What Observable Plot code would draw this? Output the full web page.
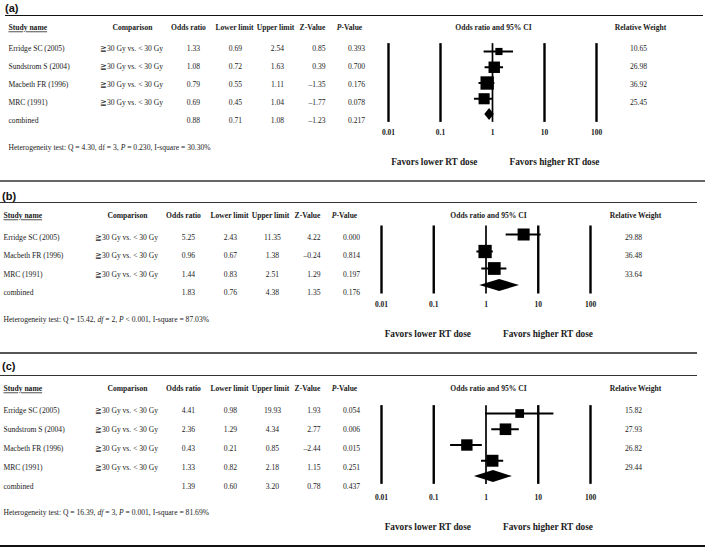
<!DOCTYPE html>
<html><head><meta charset="utf-8">
<script src="https://cdn.jsdelivr.net/npm/d3@7"></script>
<script src="https://cdn.jsdelivr.net/npm/@observablehq/plot@0.6"></script>
<style>
body{margin:0;background:#fff;}
#root{position:relative;width:705px;height:548px;overflow:hidden;background:#fff;}
.abs{position:absolute;}
.plabel{position:absolute;font-family:"Liberation Sans",Arial,sans-serif;font-weight:bold;font-size:11px;line-height:11px;color:#111;}
.rule{position:absolute;height:0;}
</style></head><body><div id="root"></div>
<script>
// ---------- data ----------
const comparison = "≧30 Gy vs. < 30 Gy";
const tickValues = [0.01, 0.1, 1, 10, 100];
const tickLabels = ["0.01", "0.1", "1", "10", "100"];
const headers = ["Study name", "Comparison", "Odds ratio", "Lower limit", "Upper limit", "Z-Value", "P-Value", "Odds ratio and 95% CI", "Relative Weight"];
const favorsLabels = ["Favors lower RT dose", "Favors higher RT dose"];

// Panel (a)
const studiesA = ["Erridge SC (2005)", "Sundstrom S (2004)", "Macbeth FR (1996)", "MRC (1991)"];
const oddsA = [1.33, 1.08, 0.79, 0.69];
const lowerA = [0.69, 0.72, 0.55, 0.45];
const upperA = [2.54, 1.63, 1.11, 1.04];
const zA = [0.85, 0.39, -1.35, -1.77];
const pA = [0.393, 0.700, 0.176, 0.078];
const weightA = [10.65, 26.98, 36.92, 25.45];
const combinedA = {or: 0.88, lower: 0.71, upper: 1.08, z: -1.23, p: 0.217};
const hetA = "Heterogeneity test: Q = 4.30, df = 3, P = 0.230, I-square = 30.30%";

// Panel (b)
const studiesB = ["Erridge SC (2005)", "Macbeth FR (1996)", "MRC (1991)"];
const oddsB = [5.25, 0.96, 1.44];
const lowerB = [2.43, 0.67, 0.83];
const upperB = [11.35, 1.38, 2.51];
const zB = [4.22, -0.24, 1.29];
const pB = [0.000, 0.814, 0.197];
const weightB = [29.88, 36.48, 33.64];
const combinedB = {or: 1.83, lower: 0.76, upper: 4.38, z: 1.35, p: 0.176};
const hetB = "Heterogeneity test: Q = 15.42, df = 2, P < 0.001, I-square = 87.03%";

// Panel (c)
const studiesC = ["Erridge SC (2005)", "Sundstrom S (2004)", "Macbeth FR (1996)", "MRC (1991)"];
const oddsC = [4.41, 2.36, 0.43, 1.33];
const lowerC = [0.98, 1.29, 0.21, 0.82];
const upperC = [19.93, 4.34, 0.85, 2.18];
const zC = [1.93, 2.77, -2.44, 1.15];
const pC = [0.054, 0.006, 0.015, 0.251];
const weightC = [15.82, 27.93, 26.82, 29.44];
const combinedC = {or: 1.39, lower: 0.60, upper: 3.20, z: 0.78, p: 0.437};
const hetC = "Heterogeneity test: Q = 16.39, df = 3, P = 0.001, I-square = 81.69%";

// ---------- layout ----------
const SERIF = "'Liberation Serif','Times New Roman',serif";
const FS = 7.6;
const INK = "#1a1a1a";
const f2 = v => v.toFixed(2);
const fz = v => v.toFixed(2).replace("-", "–");
const f3 = v => v.toFixed(3);

const columns = [
  {key: "name", h: 0, hx: 3, vx: 3, ha: "start", va: "start"},
  {key: "comp", h: 1, hx: 127, vx: 126},
  {key: "or", h: 2, hx: 183, vx: 188, fmt: f2},
  {key: "lower", h: 3, hx: 229, vx: 230, fmt: f2},
  {key: "upper", h: 4, hx: 270, vx: 272, fmt: f2},
  {key: "z", h: 5, hx: 307, vx: 320, va: "end", fmt: fz},
  {key: "p", h: 6, hx: 344, vx: 351, fmt: f3},
  {key: null, h: 7, hx: 488},
  {key: "w", h: 8, hx: 635, vx: 633, fmt: f2}
];

const panels = [
  {label: "(a)", studies: studiesA, odds: oddsA, lower: lowerA, upper: upperA, z: zA, p: pA, weight: weightA, combined: combinedA, het: hetA, italic: ["P"],
   L: {top: 16, height: 164, shift: 5, rows: [32, 104], forest: [35, 98], xRange: [388, 596], labelTop: 3, labelLeft: 5}},
  {label: "(b)", studies: studiesB, odds: oddsB, lower: lowerB, upper: upperB, z: zB, p: pB, weight: weightB, combined: combinedB, het: hetB, italic: ["df", "P"],
   L: {top: 204, height: 148, shift: 0, rows: [33, 88], forest: [30, 81], xRange: [381, 590], labelTop: 191, labelLeft: 2}},
  {label: "(c)", studies: studiesC, odds: oddsC, lower: lowerC, upper: upperC, z: zC, p: pC, weight: weightC, combined: combinedC, het: hetC, italic: ["df", "P"],
   L: {top: 377, height: 168, shift: 0, rows: [33, 109], forest: [36, 99], xRange: [381, 590], labelTop: 361, labelLeft: 2}}
];

const rules = [
  {top: 14.5, left: 5, width: 698, w: 1.7, color: "#111"},
  {top: 180, left: 0, width: 705, w: 2, color: "#666"},
  {top: 202, left: 0, width: 697, w: 1.7, color: "#333"},
  {top: 352, left: 0, width: 697, w: 2, color: "#555"},
  {top: 375, left: 0, width: 697, w: 1.7, color: "#333"},
  {top: 545, left: 0, width: 705, w: 2, color: "#111"}
];

const root = document.getElementById("root");
function place(el, top) {
  const d = document.createElement("div");
  d.className = "abs"; d.style.top = top + "px"; d.style.left = "0px";
  d.appendChild(el); root.appendChild(d);
}
for (const r of rules) {
  const d = document.createElement("div");
  d.className = "rule";
  Object.assign(d.style, {top: r.top + "px", left: r.left + "px", width: r.width + "px", borderTop: `${r.w}px solid ${r.color}`});
  root.appendChild(d);
}

function decorate(svg, italicTokens) {
  d3.select(svg).selectAll("text").each(function() {
    const t = this.textContent;
    if (t === "Study name") this.setAttribute("text-decoration", "underline");
    let tokens = null;
    if (t === "P-Value") tokens = ["P"];
    else if (t.startsWith("Heterogeneity")) tokens = italicTokens;
    if (!tokens) return;
    const parts = t.split(new RegExp("\\b(" + tokens.join("|") + ")\\b"));
    this.textContent = "";
    parts.forEach((s, i) => {
      if (!s) return;
      const ts = document.createElementNS("http://www.w3.org/2000/svg", "tspan");
      ts.textContent = s;
      if (i % 2 === 1) ts.setAttribute("font-style", "italic");
      this.appendChild(ts);
    });
  });
}

for (const P of panels) {
  const L = P.L;
  const n = P.studies.length;
  const rows = P.studies.map((s, i) => ({idx: i + 1, name: s, comp: comparison, or: P.odds[i], lower: P.lower[i], upper: P.upper[i], z: P.z[i], p: P.p[i], w: P.weight[i]}));
  const comb = {idx: n + 1, name: "combined", comp: null, w: null, ...P.combined};
  const all = [...rows, comb];

  // panel label
  const lab = document.createElement("div");
  lab.className = "plabel"; lab.textContent = P.label;
  lab.style.top = L.labelTop + "px"; lab.style.left = L.labelLeft + "px";
  root.appendChild(lab);

  // ---- table plot ----
  const tmarks = [];
  for (const c of columns) {
    tmarks.push(Plot.text([headers[c.h]], {
      frameAnchor: "top-left", dx: c.hx + L.shift, dy: 11.5, textAnchor: c.ha || "middle", lineAnchor: "middle",
      fontWeight: "bold", fontFamily: SERIF, fontSize: FS, fill: INK
    }));
    if (c.key) {
      tmarks.push(Plot.text(all, {
        y: "idx", text: d => (d[c.key] == null ? null : (c.fmt ? c.fmt(d[c.key]) : d[c.key])),
        frameAnchor: "left", dx: c.vx + L.shift, textAnchor: c.va || "middle", lineAnchor: "middle",
        fontFamily: SERIF, fontSize: FS, fill: INK
      }));
    }
  }
  tmarks.push(Plot.text([P.het], {
    frameAnchor: "bottom-left", dx: 3 + L.shift, dy: -33, textAnchor: "start", lineAnchor: "middle",
    fontFamily: SERIF, fontSize: FS, fill: INK
  }));
  const table = Plot.plot({
    width: 705, height: L.height, margin: 0,
    style: {background: "transparent", overflow: "visible"},
    y: {domain: [1, n + 1], range: L.rows, axis: null},
    marks: tmarks
  });
  decorate(table, P.italic);
  place(table, L.top);

  // ---- forest plot ----
  const spacing = (L.forest[1] - L.forest[0]) / n;
  const h = 6 / spacing;
  const diamond = [
    {x: comb.lower, y1: n + 1, y2: n + 1},
    {x: comb.or, y1: n + 1 - h, y2: n + 1 + h},
    {x: comb.upper, y1: n + 1, y2: n + 1}
  ];
  const ticks = tickValues.map((v, i) => ({v, label: tickLabels[i]}));
  const forest = Plot.plot({
    width: 705, height: L.height, margin: 0,
    style: {background: "transparent", overflow: "visible"},
    x: {type: "log", domain: [0.01, 100], range: L.xRange, axis: null},
    y: {domain: [1, n + 1], range: L.forest, axis: null},
    r: {type: "sqrt", domain: [0, 40], range: [0, 7.85]},
    marks: [
      Plot.ruleX(ticks, {x: "v", y1: 0.5, y2: n + 1.5, stroke: "#000", strokeWidth: d => (d.v === 1 ? 1.7 : 2.4)}),
      Plot.ruleY(rows, {y: "idx", x1: "lower", x2: "upper", stroke: "#000", strokeWidth: 2}),
      Plot.dot(rows, {x: "or", y: "idx", r: "w", symbol: "square", fill: "#000", stroke: null}),
      Plot.areaY(diamond, {x: "x", y1: "y1", y2: "y2", fill: "#000"}),
      Plot.text(ticks, {x: "v", text: "label", frameAnchor: "bottom", dy: -48, lineAnchor: "middle",
        fontWeight: "bold", fontFamily: SERIF, fontSize: 7.5, fill: INK}),
      Plot.text([favorsLabels[0]], {x: () => 1, frameAnchor: "bottom", dy: -18.5, dx: -15, textAnchor: "end", lineAnchor: "middle",
        fontWeight: "bold", fontFamily: SERIF, fontSize: 9.3, fill: INK}),
      Plot.text([favorsLabels[1]], {x: () => 1, frameAnchor: "bottom", dy: -18.5, dx: 17, textAnchor: "start", lineAnchor: "middle",
        fontWeight: "bold", fontFamily: SERIF, fontSize: 9.3, fill: INK})
    ]
  });
  place(forest, L.top);
}
</script></body></html>
